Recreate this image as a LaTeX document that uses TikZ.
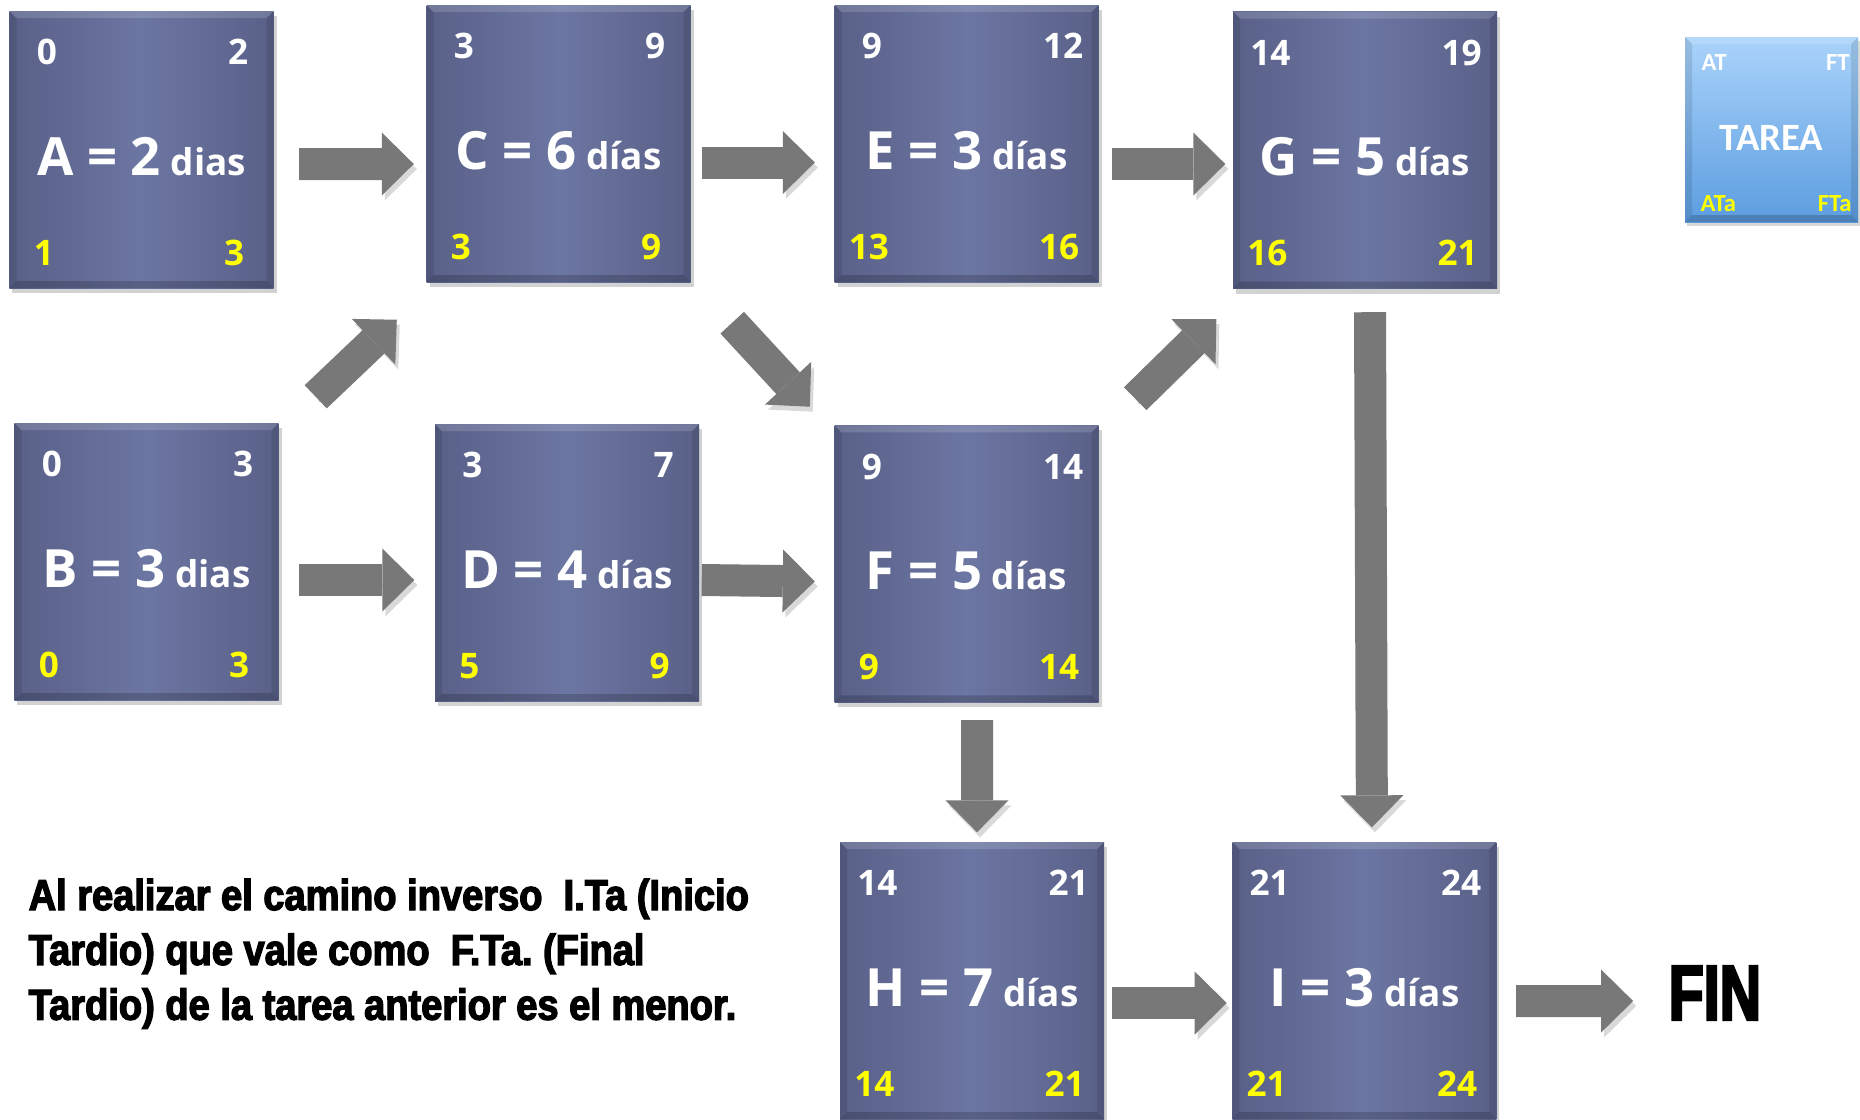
\documentclass[tikz,border=0pt]{standalone}
\usepackage{fontspec}
\setmainfont{Open Sans}
\newfontfamily\cajafont{Open Sans}
\newfontfamily\leyfont{Carlito}
\newfontfamily\notafont[FakeStretch=0.88,FakeBold=3]{Liberation Sans}
\newfontfamily\finfont[FakeStretch=0.73,FakeBold=3]{Liberation Sans}
\usetikzlibrary{arrows.meta, calc, positioning, shadows}
\definecolor{tazul}{HTML}{6C76A2}
\definecolor{tazulosc}{HTML}{596088}
\definecolor{tgris}{HTML}{787878}
\definecolor{tamar}{HTML}{FFFF00}
\definecolor{lclaro}{HTML}{AAD3FA}
\definecolor{lmedio}{HTML}{5C9DE0}
\newcommand\grande[1]{{\fontsize{15}{16}\selectfont #1}}
\tikzset{
  % bisel de las cajas
  bisel/.style={path picture={
    \path (path picture bounding box.north west) coordinate (bnw)
      (path picture bounding box.north east) coordinate (bne)
      (path picture bounding box.south west) coordinate (bsw)
      (path picture bounding box.south east) coordinate (bse);
    \fill[white, opacity=0.15] (bnw) -- (bne) -- ([shift={(-0.07,-0.07)}]bne) -- ([shift={(0.07,-0.07)}]bnw) -- cycle;
    \fill[black, opacity=0.18] (bsw) -- (bse) -- ([shift={(-0.07,0.07)}]bse) -- ([shift={(0.07,0.07)}]bsw) -- cycle;
    \fill[black, opacity=0.10] (bnw) -- (bsw) -- ([shift={(0.07,0.07)}]bsw) -- ([shift={(0.07,-0.07)}]bnw) -- cycle;
    \fill[black, opacity=0.10] (bne) -- (bse) -- ([shift={(-0.07,0.07)}]bse) -- ([shift={(-0.07,-0.07)}]bne) -- cycle;
  }},
  % caja de una tarea
  tarea/.style={rectangle, minimum width=2.64cm, minimum height=2.77cm, inner sep=0pt,
    left color=tazulosc, right color=tazulosc, middle color=tazul, text=white,
    font=\cajafont\bfseries\fontsize{10.5}{12}\selectfont, text height=0.51cm, text depth=0pt,
    drop shadow={shadow xshift=0.03cm, shadow yshift=-0.05cm, opacity=0.35}, bisel},
  % numeros de las esquinas
  esq/.style={anchor=center, inner sep=0pt, font=\cajafont\bfseries\fontsize{10}{12}\selectfont,
    text height=0.25cm, text depth=0pt},
  n ti/.style={esq, text=white, xshift=0.38cm, yshift=-0.42cm},
  n td/.style={esq, text=white, xshift=-0.36cm, yshift=-0.42cm},
  n bi/.style={esq, text=tamar, xshift=0.35cm, yshift=0.36cm},
  n bd/.style={esq, text=tamar, xshift=-0.40cm, yshift=0.36cm},
  esquinas/.style n args={4}{label={[n ti]north west:#1}, label={[n td]north east:#2},
    label={[n bi]south west:#3}, label={[n bd]south east:#4}},
  % caja de la leyenda
  leyenda/.style={rectangle, minimum width=1.73cm, minimum height=1.85cm, inner sep=0pt,
    top color=lclaro, bottom color=lmedio, text=white,
    font=\leyfont\bfseries\fontsize{11}{12}\selectfont, text height=0.42cm, text depth=0pt,
    drop shadow={shadow xshift=0.02cm, shadow yshift=-0.04cm, opacity=0.3}, bisel},
  l esq/.style={anchor=center, inner sep=0pt, font=\leyfont\bfseries\fontsize{7}{8}\selectfont,
    text height=0.16cm, text depth=0pt},
  % flechas gruesas
  flecha/.style={draw=tgris, line width=0.32cm,
    -{Triangle[length=0.32cm, width=0.63cm, line width=0pt]},
    preaction={draw=black, opacity=0.15, transform canvas={shift={(0.03,-0.05)}}}},
  % textos sueltos
  nota/.style={font=\notafont\bfseries\fontsize{12.3}{15.6}\selectfont, align=left,
    inner sep=0pt, anchor=north west},
  fintxt/.style={font=\finfont\bfseries\fontsize{22.3}{24}\selectfont, inner sep=0pt},
}
\begin{document}
\begin{tikzpicture}
  \useasboundingbox (0,0) rectangle (18.6,-11.19);
  \fill[white] (0,0) rectangle (18.6,-11.19);

  % tareas
  \node[tarea, esquinas={0}{2}{1}{3}] (a) at (1.415,-1.495) {\grande{A = 2} dias};
  \node[tarea, esquinas={3}{9}{3}{9}] (c) at (5.585,-1.435) {\grande{C = 6} días};
  \node[tarea, esquinas={9}{12}{13}{16}] (e) at (9.665,-1.435) {\grande{E = 3} días};
  \node[tarea, esquinas={14}{19}{16}{21}] (g) at (13.65,-1.50) {\grande{G = 5} días};
  \node[tarea, esquinas={0}{3}{0}{3}] (b) at (1.465,-5.615) {\grande{B = 3} dias};
  \node[tarea, esquinas={3}{7}{5}{9}] (d) at (5.67,-5.625) {\grande{D = 4} días};
  \node[tarea, esquinas={9}{14}{9}{14}, below=1.42cm of e] (f) {\grande{F = 5} días};
  \node[tarea, esquinas={14}{21}{14}{21}] (h) at (9.72,-9.805) {\grande{H = 7} días};
  \node[tarea, esquinas={21}{24}{21}{24}, right=1.27cm of h] (i) {\grande{I = 3} días};

  % leyenda
  \node[leyenda,
    label={[l esq, text=white, xshift=0.30cm, yshift=-0.26cm]north west:AT},
    label={[l esq, text=white, xshift=-0.21cm, yshift=-0.26cm]north east:FT},
    label={[l esq, text=tamar, xshift=0.34cm, yshift=0.19cm]south west:ATa},
    label={[l esq, text=tamar, xshift=-0.24cm, yshift=0.19cm]south east:FTa}]
    (ley) at (17.715,-1.295) {TAREA};

  \node[fintxt, right=1.71cm of i, yshift=-0.125cm] (fin) {FIN};
  \node[nota] (nota) at (0.28,-8.78) {Al realizar el camino inverso\ \ I.Ta\ (Inicio\\
    Tardio)\ que vale como\ \ F.Ta.\ (Final\\
    Tardio)\ de la tarea anterior es el menor.};

  % flechas
  \draw[flecha] ($(a.east)+(0.25,-0.145)$) -- ($(c.west)+(-0.12,-0.205)$);
  \draw[flecha] ($(c.east)+(0.11,-0.19)$) -- ($(e.west)+(-0.19,-0.19)$);
  \draw[flecha] ($(e.east)+(0.13,-0.205)$) -- ($(g.west)+(-0.07,-0.14)$);
  \draw[flecha] ($(b.east)+(0.20,-0.185)$) -- ($(d.west)+(-0.20,-0.175)$);
  \draw[flecha] ($(d.east)+(0.02,-0.175)$) -- ($(f.west)+(-0.19,-0.175)$);
  \draw[flecha] ($(h.east)+(0.07,-0.225)$) -- ($(i.west)+(-0.05,-0.225)$);
  \draw[flecha] ($(i.east)+(0.19,-0.205)$) -- ($(fin.west)+(-0.35,-0.08)$);
  \draw[flecha] ($(b.north east)+(0.365,0.255)$) -- ($(c.south west)+(-0.29,-0.37)$);
  \draw[flecha] ($(c.south east)+(0.41,-0.40)$) -- ($(f.north west)+(-0.24,0.18)$);
  \draw[flecha] ($(f.north east)+(0.36,0.26)$) -- ($(g.south west)+(-0.16,-0.30)$);
  \draw[flecha] ($(f.south)+(0.105,-0.17)$) -- ($(h.north)+(0.05,0.09)$);
  \draw[flecha] ($(g.south)+(0.05,-0.23)$) -- ($(i.north)+(0.075,0.14)$);
\end{tikzpicture}
\end{document}
